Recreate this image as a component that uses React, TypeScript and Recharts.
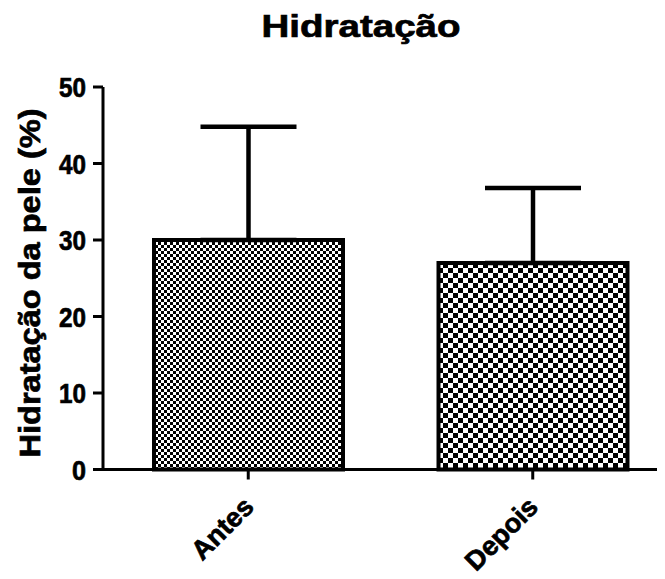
import React from "react";
import { BarChart, Bar, XAxis, YAxis, ErrorBar } from "recharts";

const categories = ["Antes", "Depois"];
const means = [30, 27];
const sds = [14.8, 9.8];
const patterns = ["url(#fine)", "url(#coarse)"];
const yTicks = [0, 10, 20, 30, 40, 50];

const data = categories.map((name, i) => ({
  name,
  value: means[i],
  err: [0, sds[i]],
  fill: patterns[i],
}));

const FONT = "'Liberation Sans', Arial, sans-serif";

// Prism-like heavy text: bold + a thin outline, stretched to measured widths
const YTick = ({ x, y, payload }: any) => (
  <text
    x={x - 5}
    y={y + 10}
    textAnchor="end"
    fontFamily={FONT}
    fontWeight="bold"
    fontSize={28}
    stroke="#000"
    strokeWidth={0.7}
    textLength={String(payload.value).length === 1 ? 14 : 27}
    lengthAdjust="spacingAndGlyphs"
    fill="#000"
  >
    {payload.value}
  </text>
);

const XTick = ({ x, y, payload }: any) => (
  <text
    x={x + 7}
    y={y + 27}
    textAnchor="end"
    transform={`rotate(-45, ${x + 7}, ${y + 27})`}
    fontFamily={FONT}
    fontWeight="bold"
    fontSize={27}
    stroke="#000"
    strokeWidth={0.7}
    fill="#000"
  >
    {payload.value}
  </text>
);

export default function App() {
  return (
    <div style={{ width: 657, height: 571, overflow: "hidden" }}>
      <BarChart
        width={667}
        height={571}
        data={data}
        margin={{ top: 79, right: 0, bottom: 0, left: 0 }}
      >
        <defs>
          <pattern id="fine" width={6} height={6} patternUnits="userSpaceOnUse">
            <rect width={6} height={6} fill="#fff" />
            <rect width={3} height={3} fill="#000" />
            <rect x={3} y={3} width={3} height={3} fill="#000" />
          </pattern>
          <pattern id="coarse" width={10} height={10} patternUnits="userSpaceOnUse">
            <rect width={10} height={10} fill="#fff" />
            <rect width={5} height={5} fill="#000" />
            <rect x={5} y={5} width={5} height={5} fill="#000" />
          </pattern>
        </defs>
        <text
          x={353}
          y={29}
          textAnchor="middle"
          fontFamily={FONT}
          fontWeight="bold"
          fontSize={32}
          stroke="#000"
          strokeWidth={0.7}
          textLength={199}
          lengthAdjust="spacingAndGlyphs"
        >
          Hidratação
        </text>
        <text
          x={32}
          y={275}
          textAnchor="middle"
          transform="rotate(-90, 32, 275)"
          fontFamily={FONT}
          fontWeight="bold"
          fontSize={30}
          stroke="#000"
          strokeWidth={0.7}
          textLength={349}
          lengthAdjust="spacingAndGlyphs"
        >
          Hidratação da pele (%)
        </text>
        <XAxis
          dataKey="name"
          height={109.5}
          padding={{ left: 3, right: 0 }}
          axisLine={{ stroke: "#000", strokeWidth: 3 }}
          tickLine={{ stroke: "#000", strokeWidth: 3 }}
          tickSize={10}
          tick={<XTick />}
          interval={0}
        />
        <YAxis
          width={95}
          domain={[0, 50]}
          ticks={yTicks}
          axisLine={{ stroke: "#000", strokeWidth: 3 }}
          tickLine={{ stroke: "#000", strokeWidth: 3 }}
          tickSize={10}
          tick={<YTick />}
        />
        <Bar
          dataKey="value"
          barSize={189}
          stroke="#000"
          strokeWidth={4}
          isAnimationActive={false}
        >
          <ErrorBar
            dataKey="err"
            direction="y"
            width={48}
            stroke="#000"
            strokeWidth={4.5}
            isAnimationActive={false}
          />
        </Bar>
      </BarChart>
    </div>
  );
}
